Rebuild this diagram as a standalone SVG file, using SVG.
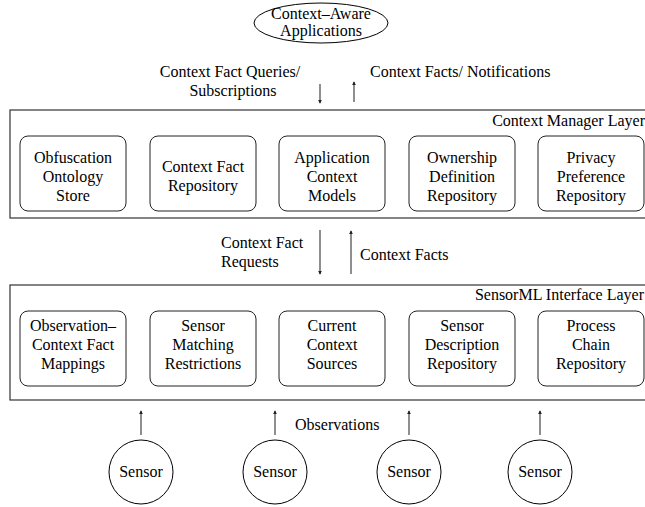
<svg xmlns="http://www.w3.org/2000/svg" width="645" height="507" viewBox="0 0 645 507" font-family="'Liberation Serif', 'Times New Roman', serif" font-size="16">
<defs>
<style>
text{font-family:'Liberation Serif','Times New Roman',serif;font-size:16px;fill:#000}
.c{text-anchor:middle}
.r{text-anchor:end}
.layer{fill:none;stroke:#333;stroke-width:1.2}
.box{fill:#fff;stroke:#222;stroke-width:1}
.node{fill:#fff;stroke:#000;stroke-width:1}
.arr{stroke:#444;stroke-width:1.2;fill:none;marker-end:url(#ah)}
</style>
<marker id="ah" viewBox="0 0 6 10" refX="5" refY="5" markerWidth="4" markerHeight="7" markerUnits="userSpaceOnUse" orient="auto-start-reverse">
<path d="M0,2 L6,5 L0,8 z" fill="#222"/>
</marker>
</defs>
<rect width="645" height="507" fill="#fff"/>

<g id="apps">
<ellipse class="node" cx="321" cy="23" rx="67" ry="20"/>
<text class="c" x="321" y="19">Context–Aware</text>
<text class="c" x="321" y="36">Applications</text>
</g>

<g id="cm-layer">
<rect class="layer" x="10" y="110" width="640" height="108"/>
<text class="r" x="645" y="126">Context Manager Layer</text>
</g>
<g id="obf"><rect class="box" x="20" y="136" width="106" height="75" rx="8"/>
<text class="c" x="73" y="163">Obfuscation</text><text class="c" x="73" y="182">Ontology</text><text class="c" x="73" y="201">Store</text></g>
<g id="cfr"><rect class="box" x="150" y="136" width="106" height="75" rx="8"/>
<text class="c" x="203" y="172">Context Fact</text><text class="c" x="203" y="191">Repository</text></g>
<g id="acm"><rect class="box" x="279" y="136" width="106" height="75" rx="8"/>
<text class="c" x="332" y="163">Application</text><text class="c" x="332" y="182">Context</text><text class="c" x="332" y="201">Models</text></g>
<g id="odr"><rect class="box" x="409" y="136" width="106" height="75" rx="8"/>
<text class="c" x="462" y="163">Ownership</text><text class="c" x="462" y="182">Definition</text><text class="c" x="462" y="201">Repository</text></g>
<g id="ppr"><rect class="box" x="538" y="136" width="106" height="75" rx="8"/>
<text class="c" x="591" y="163">Privacy</text><text class="c" x="591" y="182">Preference</text><text class="c" x="591" y="201">Repository</text></g>

<g id="sml-layer">
<rect class="layer" x="10" y="285" width="640" height="115"/>
<text class="r" x="644" y="300">SensorML Interface Layer</text>
</g>
<g id="ocfm"><rect class="box" x="20" y="311" width="106" height="75" rx="8"/>
<text class="c" x="73" y="331">Observation–</text><text class="c" x="73" y="350">Context Fact</text><text class="c" x="73" y="369">Mappings</text></g>
<g id="smr"><rect class="box" x="150" y="311" width="106" height="75" rx="8"/>
<text class="c" x="203" y="331">Sensor</text><text class="c" x="203" y="350">Matching</text><text class="c" x="203" y="369">Restrictions</text></g>
<g id="ccs"><rect class="box" x="279" y="311" width="106" height="75" rx="8"/>
<text class="c" x="332" y="331">Current</text><text class="c" x="332" y="350">Context</text><text class="c" x="332" y="369">Sources</text></g>
<g id="sdr"><rect class="box" x="409" y="311" width="106" height="75" rx="8"/>
<text class="c" x="462" y="331">Sensor</text><text class="c" x="462" y="350">Description</text><text class="c" x="462" y="369">Repository</text></g>
<g id="pcr"><rect class="box" x="538" y="311" width="106" height="75" rx="8"/>
<text class="c" x="591" y="331">Process</text><text class="c" x="591" y="350">Chain</text><text class="c" x="591" y="369">Repository</text></g>

<g id="s1"><circle class="node" cx="141" cy="472" r="32"/><text class="c" x="141" y="477">Sensor</text></g>
<g id="s2"><circle class="node" cx="275" cy="472" r="32"/><text class="c" x="275" y="477">Sensor</text></g>
<g id="s3"><circle class="node" cx="409" cy="472" r="32"/><text class="c" x="409" y="477">Sensor</text></g>
<g id="s4"><circle class="node" cx="540" cy="472" r="32"/><text class="c" x="540" y="477">Sensor</text></g>

<g id="connectors">
<line class="arr" x1="320" y1="84" x2="320" y2="103"/>
<line class="arr" x1="354" y1="102" x2="354" y2="82"/>
<text class="c" x="230" y="77">Context Fact Queries/</text>
<text class="c" x="233" y="96">Subscriptions</text>
<text x="370" y="77">Context Facts/ Notifications</text>

<line class="arr" x1="320" y1="230" x2="320" y2="274"/>
<line class="arr" x1="351" y1="274" x2="351" y2="231"/>
<text x="221" y="248">Context Fact</text>
<text x="221" y="267">Requests</text>
<text x="360" y="260">Context Facts</text>

<line class="arr" x1="141" y1="435" x2="141" y2="411"/>
<line class="arr" x1="275" y1="435" x2="275" y2="411"/>
<line class="arr" x1="409" y1="435" x2="409" y2="411"/>
<line class="arr" x1="540" y1="435" x2="540" y2="411"/>
<text x="295" y="430">Observations</text>
</g>
</svg>
